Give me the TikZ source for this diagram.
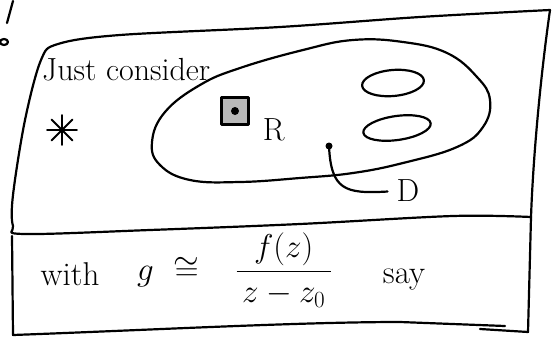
\RequirePackage{fix-cm}
\documentclass[tikz,border=0pt]{standalone}
\usepackage{amsmath, amssymb}
\usetikzlibrary{positioning, calc}

\begin{document}
\begin{tikzpicture}[x=1pt, y=-1pt,
      pen/.style={line width=2.2pt, line cap=round, line join=round},
      hand/.style={font=\fontsize{32}{36}\selectfont, inner sep=0pt},
      low/.style={font=\fontsize{33}{40}\selectfont, inner sep=0pt}]
    \useasboundingbox (0,0) rectangle (553,348);
    % stray marks at the left edge
    \draw[pen] (13,1) -- (7,23);
    \draw[pen] (4,42) ellipse [x radius=4, y radius=3];
    % upper panel
    \draw[pen] plot[smooth, tension=0.55] coordinates {(550,10) (420,17) (280,27) (120,35)
      (58,44) (41,60) (25,120) (13,195) (13,226) (24,234) (150,230) (300,224) (453,216) (531,217)};
    \draw[pen] (550,10) .. controls (540,80) and (533,160) .. (531,217);
    % lower panel
    \draw[pen] (12,236) -- (13,335) .. controls (150,330) and (300,322) .. (400,322) -- (505,326);
    \draw[pen] (480,329) -- (528,332) -- (531,217);
    % region D with two holes
    \draw[pen] plot[smooth cycle, tension=0.7] coordinates {(240,68) (303,50) (353,40) (403,42)
      (447,53) (477,77) (490,100) (483,127) (457,147) (403,163) (353,173) (300,178) (240,182)
      (190,180) (160,165) (152,142) (165,112) (200,85)};
    \draw[pen, rotate around={5:(393,83)}] (393,83) ellipse [x radius=31, y radius=13];
    \draw[pen, rotate around={8:(397,128)}] (397,128) ellipse [x radius=34, y radius=12];
    % star outside
    \coordinate (star) at (62,130);
    \foreach \a in {0,45,90,135}
      \draw[pen, line width=1.8pt] ($(star)+(\a:15)$) -- ($(star)+(\a+180:15)$);
    % little square R
    \node[draw, pen, fill=gray!55, minimum size=27pt, inner sep=0pt] (sq) at (235,111) {};
    \fill (sq.center) circle (4);
    \node[hand, anchor=base west] (rlbl) at ($(sq.south east)+(13,15)$) {R};
    % point and label D
    \coordinate (p) at (329,146);
    \fill (p) circle (3.5);
    \node[hand] (dlbl) at (408,191) {D};
    \draw[pen, shorten >=9pt] (p) .. controls (331,190) and (345,194) .. (dlbl.west);
    % texts
    \node[hand, anchor=base west] (title) at (42,80) {Just consider};
    \node[low, anchor=base] (with) at (70,285) {with};
    \node[low, anchor=base west] (eq) at (137,280)
      {$g\hspace{20pt}{\cong}\hspace{36pt}\dfrac{\,f(z)\,}{\,z-z_0\,}$};
    \node[low, anchor=base] (say) at (404,283) {say};
\end{tikzpicture}
\end{document}
